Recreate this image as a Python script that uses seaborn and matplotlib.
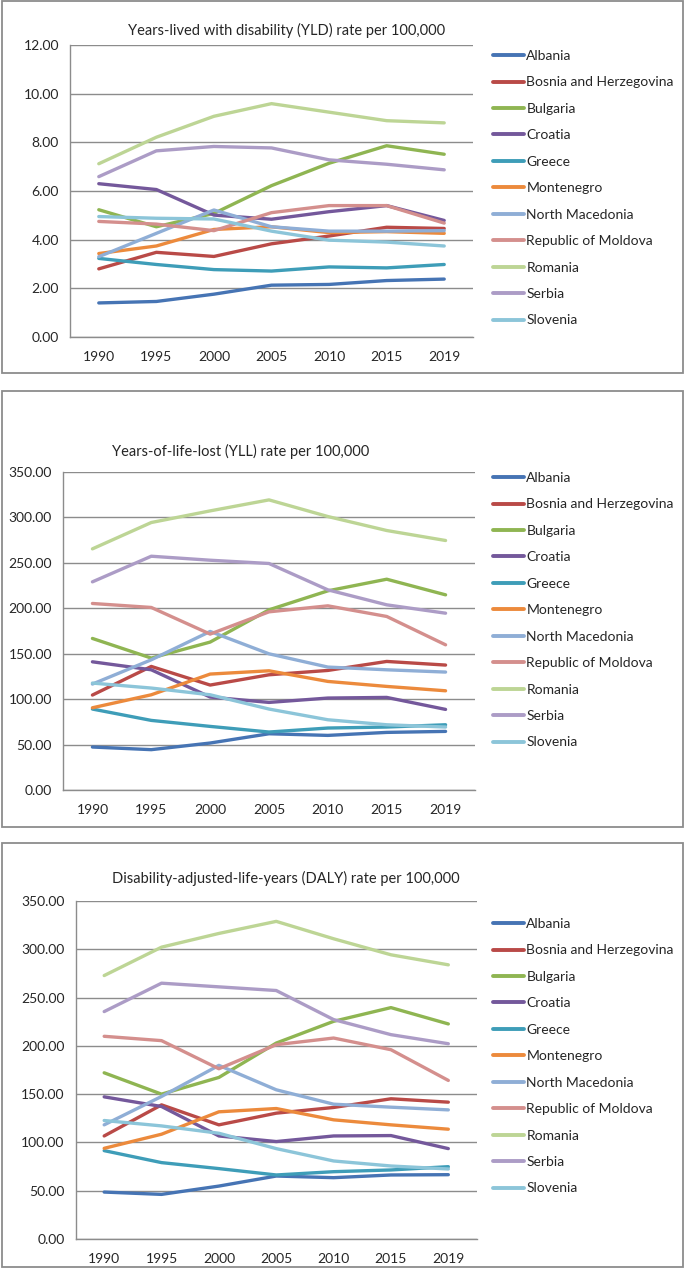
import numpy as np
import pandas as pd
import seaborn as sns
from matplotlib import pyplot as plt
from matplotlib.lines import Line2D
from matplotlib.patches import Rectangle

# ------------------------------------------------------------
# data
# ------------------------------------------------------------
years = ['1990', '1995', '2000', '2005', '2010', '2015', '2019']
countries = ['Albania', 'Bosnia and Herzegovina', 'Bulgaria', 'Croatia', 'Greece',
             'Montenegro', 'North Macedonia', 'Republic of Moldova', 'Romania',
             'Serbia', 'Slovenia']
colors = ['#4674B4', '#B94A47', '#8FB552', '#74589B', '#3E9DB8', '#EC8A3C',
          '#8FAED6', '#D48F8D', '#BDD595', '#AC9CC6', '#8CC5D9']

yld = {
    'Albania': [1.40, 1.46, 1.76, 2.13, 2.16, 2.32, 2.38],
    'Bosnia and Herzegovina': [2.80, 3.48, 3.31, 3.83, 4.15, 4.51, 4.46],
    'Bulgaria': [5.23, 4.53, 5.08, 6.22, 7.14, 7.86, 7.51],
    'Croatia': [6.30, 6.06, 5.01, 4.84, 5.15, 5.40, 4.79],
    'Greece': [3.23, 2.98, 2.77, 2.71, 2.88, 2.84, 2.98],
    'Montenegro': [3.43, 3.74, 4.42, 4.53, 4.29, 4.33, 4.26],
    'North Macedonia': [3.30, 4.26, 5.22, 4.53, 4.35, 4.35, 4.37],
    'Republic of Moldova': [4.75, 4.64, 4.37, 5.11, 5.40, 5.40, 4.68],
    'Romania': [7.12, 8.21, 9.07, 9.59, 9.24, 8.89, 8.80],
    'Serbia': [6.59, 7.65, 7.83, 7.77, 7.28, 7.10, 6.87],
    'Slovenia': [4.95, 4.88, 4.85, 4.35, 3.98, 3.90, 3.74],
}

yll = {
    'Albania': [47.3, 44.4, 51.7, 61.9, 60.1, 63.4, 64.5],
    'Bosnia and Herzegovina': [104.5, 136.0, 115.5, 126.8, 131.6, 141.5, 137.5],
    'Bulgaria': [166.8, 145.2, 162.8, 198.3, 219.2, 232.0, 214.8],
    'Croatia': [141.1, 132.3, 102.3, 96.4, 101.2, 101.9, 88.7],
    'Greece': [89.1, 76.6, 70.0, 63.8, 68.2, 69.3, 71.8],
    'Montenegro': [90.5, 104.8, 127.6, 131.2, 119.5, 114.0, 109.2],
    'North Macedonia': [116.6, 143.3, 174.5, 149.9, 135.3, 132.3, 129.8],
    'Republic of Moldova': [205.3, 200.9, 171.6, 196.1, 202.7, 191.0, 159.8],
    'Romania': [265.4, 294.4, 307.2, 319.3, 301.0, 285.6, 274.6],
    'Serbia': [229.1, 257.3, 252.9, 249.3, 220.3, 203.8, 194.6],
    'Slovenia': [117.7, 112.2, 104.8, 89.1, 77.3, 71.8, 69.3],
}

daly = {
    'Albania': [48.6, 46.2, 54.8, 65.2, 63.5, 66.3, 66.6],
    'Bosnia and Herzegovina': [106.7, 138.9, 118.2, 130.3, 136.2, 145.2, 141.7],
    'Bulgaria': [172.1, 150.0, 167.3, 202.9, 225.4, 239.6, 222.7],
    'Croatia': [147.2, 137.2, 106.7, 100.9, 106.7, 107.1, 93.6],
    'Greece': [91.5, 79.1, 72.9, 66.3, 69.7, 71.5, 74.9],
    'Montenegro': [93.9, 108.5, 131.7, 135.1, 123.4, 118.2, 113.7],
    'North Macedonia': [118.2, 147.6, 179.8, 154.5, 139.6, 136.5, 133.7],
    'Republic of Moldova': [209.9, 205.4, 176.3, 201.2, 208.1, 196.0, 164.2],
    'Romania': [272.8, 302.2, 316.4, 328.9, 310.9, 294.3, 283.9],
    'Serbia': [235.5, 264.9, 261.1, 257.3, 227.2, 211.6, 202.2],
    'Slovenia': [122.7, 117.1, 109.5, 93.6, 80.8, 75.6, 72.5],
}

titles = ['Years-lived with disability (YLD) rate per 100,000',
          'Years-of-life-lost (YLL) rate per 100,000',
          'Disability-adjusted-life-years (DALY) rate per 100,000']

# ------------------------------------------------------------
# layout in pixels (figure 685 x 1269)
# ------------------------------------------------------------
W, H = 685, 1269
# (left, right, top, bottom) of plot area
axes_px = [(70, 473, 45, 337), (63, 475, 472, 790), (75.5, 477, 901, 1239)]
boxes_px = [(2, 1, 683, 373), (2, 391, 683, 827), (2, 843, 683, 1267)]
title_px = [(287, 30), (241, 451), (286, 878)]
legend_px = [(493, 50), (493, 472), (493, 918)]
ylims = [(0, 12, 2), (0, 350, 50), (0, 350, 50)]

sns.set_style('white')
plt.rcParams['font.family'] = ['Lato', 'DejaVu Sans']
grey = '#8C8C8C'

fig = plt.figure(figsize=(W / 100, H / 100), dpi=100)
palette = dict(zip(countries, colors))

for i, data in enumerate([yld, yll, daly]):
    # panel frame
    x0, y0, x1, y1 = boxes_px[i]
    fig.patches.append(Rectangle((x0 / W, 1 - y1 / H), (x1 - x0) / W, (y1 - y0) / H,
                                 transform=fig.transFigure, fill=False,
                                 edgecolor=grey, linewidth=1.3))

    l, r, t, b = axes_px[i]
    ax = fig.add_axes([l / W, 1 - b / H, (r - l) / W, (b - t) / H])

    rows = []
    for c in countries:
        for k, v in enumerate(data[c]):
            rows.append({'pos': k, 'Value': v, 'Country': c})
    df = pd.DataFrame(rows)

    sns.lineplot(data=df, x='pos', y='Value', hue='Country', hue_order=countries,
                 palette=palette, linewidth=2.4, sort=False, legend=False, ax=ax)

    lo, hi, step = ylims[i]
    ax.set_ylim(lo, hi)
    ax.set_yticks(np.arange(lo, hi + step / 2, step))
    ax.set_yticklabels([f'{v:.2f}' for v in np.arange(lo, hi + step / 2, step)])
    ax.set_xlim(-0.5, len(years) - 0.5)
    ax.set_xticks(range(len(years)))
    ax.set_xticklabels(years)
    ax.set_xticks(np.arange(-0.5, len(years), 1), minor=True)
    ax.tick_params(axis='x', which='major', length=0, pad=10, labelsize=10)
    ax.tick_params(axis='x', which='minor', length=5, width=1, color=grey, direction='out')
    ax.tick_params(axis='y', length=5, width=1, color=grey, direction='out', pad=3, labelsize=10)
    ax.set_xlabel('')
    ax.set_ylabel('')
    ax.grid(axis='y', color=grey, linewidth=1)
    ax.set_axisbelow(True)
    for s in ['top', 'right']:
        ax.spines[s].set_visible(False)
    for s in ['left', 'bottom']:
        ax.spines[s].set_color(grey)
        ax.spines[s].set_linewidth(1)

    tx, ty = title_px[i]
    fig.text(tx / W, 1 - ty / H, titles[i], ha='center', va='center', fontsize=10.5)

    handles = [Line2D([], [], color=palette[c], linewidth=2.8) for c in countries]
    lx, ly = legend_px[i]
    fig.legend(handles, countries, loc='upper left',
               bbox_to_anchor=(lx / W, 1 - ly / H), bbox_transform=fig.transFigure,
               frameon=False, fontsize=10, handlelength=2.2, handletextpad=0.2,
               labelspacing=1.04, borderpad=0, borderaxespad=0)

fig.savefig('out.png', dpi=100)
